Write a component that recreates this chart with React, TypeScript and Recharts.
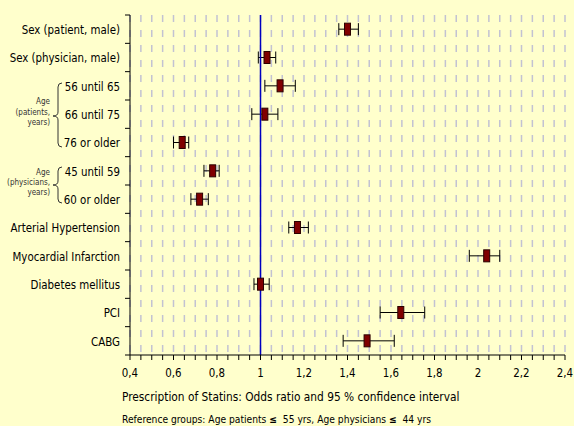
import { ScatterChart, Scatter, XAxis, YAxis, CartesianGrid, ReferenceLine, ErrorBar } from "recharts";

const categories = [
  "Sex (patient, male)",
  "Sex (physician, male)",
  "56 until 65",
  "66 until 75",
  "76 or older",
  "45 until 59",
  "60 or older",
  "Arterial Hypertension",
  "Myocardial Infarction",
  "Diabetes mellitus",
  "PCI",
  "CABG",
];
const oddsRatio = [1.4, 1.03, 1.09, 1.02, 0.64, 0.78, 0.72, 1.17, 2.04, 1.0, 1.645, 1.49];
const ciLower = [1.36, 0.99, 1.02, 0.96, 0.6, 0.74, 0.68, 1.13, 1.96, 0.97, 1.55, 1.38];
const ciUpper = [1.45, 1.07, 1.16, 1.08, 0.67, 0.81, 0.76, 1.22, 2.1, 1.04, 1.755, 1.615];

const majorTicks = [0.4, 0.6, 0.8, 1, 1.2, 1.4, 1.6, 1.8, 2, 2.2, 2.4];
// minor grid every 0.05
const allTicks = Array.from({ length: 41 }, (_, i) => Math.round((0.4 + i * 0.05) * 100) / 100);

const data = categories.map((name, i) => ({
  name,
  or: oddsRatio[i],
  err: [oddsRatio[i] - ciLower[i], ciUpper[i] - oddsRatio[i]],
}));

const W = 574;
const H = 426;
const M = { top: 15, right: 9, bottom: 41, left: 0 };
const Y_W = 130;
const X_H = 30;
const ROW_H = (H - M.top - M.bottom - X_H) / categories.length;
const FONT = "Tahoma, 'DejaVu Sans Condensed', 'Liberation Sans', sans-serif";

const YTick = ({ x, y, payload, index }: any) => (
  <g>
    <line x1={x - 5} x2={x} y1={y - ROW_H / 2} y2={y - ROW_H / 2} stroke="#000" />
    {index === categories.length - 1 && (
      <line x1={x - 5} x2={x} y1={y + ROW_H / 2} y2={y + ROW_H / 2} stroke="#000" />
    )}
    <text x={x - 10} y={y + 1} dy="0.35em" textAnchor="end" fontSize={11.4} fontFamily={FONT} fill="#000">
      {payload.value}
    </text>
  </g>
);

const XTick = ({ x, y, payload }: any) => {
  const v = payload.value;
  const isMajor = majorTicks.some((t) => Math.abs(t - v) < 1e-6);
  if (!isMajor) return null;
  return (
    <text x={x} y={y} dy="0.71em" textAnchor="middle" fontSize={11.4} fontFamily={FONT} fill="#000">
      {String(v).replace(".", ",")}
    </text>
  );
};

const Marker = ({ cx, cy }: any) => (
  <rect x={cx - 3} y={cy - 6} width={6} height={12} fill="#800000" stroke="#2a0000" strokeWidth={1} />
);

const Brace = ({ top, mid, bottom }: { top: number; mid: number; bottom: number }) => (
  <path
    d={`M62,${top} Q58,${top} 58,${top + 4} L58,${mid - 4} Q58,${mid} 53,${mid} Q58,${mid} 58,${mid + 4} L58,${bottom - 4} Q58,${bottom} 62,${bottom}`}
    fill="none"
    stroke="#333"
    strokeWidth={1}
  />
);

export default function App() {
  return (
    <div style={{ position: "relative", width: W, height: H, background: "#ffffcc" }}>
      <style>{`body{margin:0}`}</style>
      <ScatterChart width={W} height={H} margin={M}>
        <CartesianGrid horizontal={false} stroke="#c2c2d2" strokeWidth={1.5} strokeDasharray="7 8" />
        <XAxis
          type="number"
          dataKey="or"
          domain={[0.4, 2.4]}
          ticks={allTicks}
          interval={0}
          height={X_H}
          tick={<XTick />}
          tickSize={5}
          tickMargin={9}
          stroke="#000"
          allowDataOverflow
        />
        <YAxis
          type="category"
          dataKey="name"
          width={Y_W}
          reversed
          tick={<YTick />}
          tickLine={false}
          tickSize={0}
          tickMargin={0}
          interval={0}
          stroke="#000"
        />
        <Scatter data={data} shape={<Marker />} isAnimationActive={false}>
          <ErrorBar dataKey="err" direction="x" width={6} stroke="#000" strokeWidth={1} />
        </Scatter>
        <ReferenceLine x={1} stroke="#0000c0" strokeWidth={1.5} />
      </ScatterChart>
      <svg
        width={W}
        height={H}
        style={{ position: "absolute", left: 0, top: 0, pointerEvents: "none" }}
        fontFamily={FONT}
      >
        <Brace top={83} mid={116} bottom={147} />
        <text x={50} y={101} dy="0.35em" textAnchor="end" fontSize={8} fill="#333">Age</text>
        <text x={50} y={112} dy="0.35em" textAnchor="end" fontSize={8} fill="#333">(patients,</text>
        <text x={50} y={122} dy="0.35em" textAnchor="end" fontSize={8} fill="#333">years)</text>
        <Brace top={167} mid={185} bottom={203} />
        <text x={50} y={172} dy="0.35em" textAnchor="end" fontSize={8} fill="#333">Age</text>
        <text x={50} y={182} dy="0.35em" textAnchor="end" fontSize={8} fill="#333">(physicians,</text>
        <text x={50} y={192} dy="0.35em" textAnchor="end" fontSize={8} fill="#333">years)</text>
        <text x={122} y={397} dy="0.35em" fontSize={11.8} fill="#000">
          Prescription of Statins: Odds ratio and 95 % confidence interval
        </text>
        <text x={122} y={419} dy="0.35em" fontSize={10.2} fill="#000">
          {"Reference groups: Age patients "}
          <tspan fontWeight="bold">≤</tspan>
          {"\u00a0 55 yrs, Age physicians "}
          <tspan fontWeight="bold">≤</tspan>
          {"\u00a0 44 yrs"}
        </text>
      </svg>
    </div>
  );
}
